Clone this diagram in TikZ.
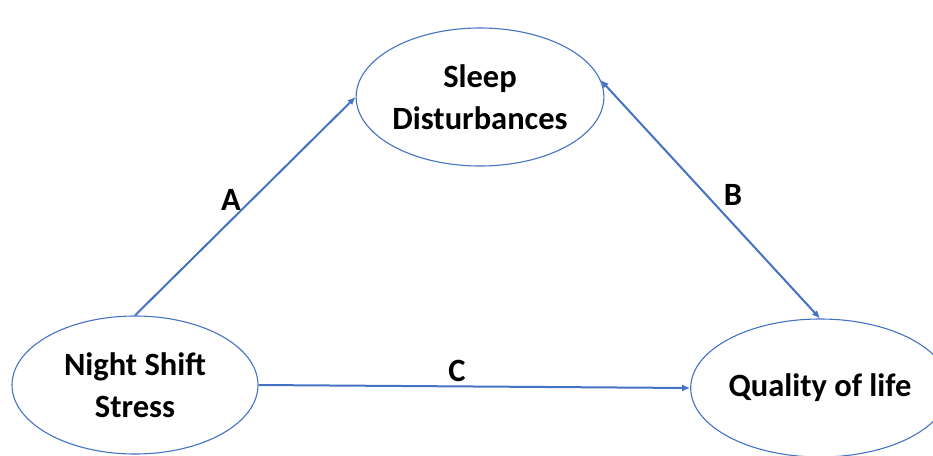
\documentclass[tikz,border=0pt]{standalone}
\usepackage{fontspec}
\setmainfont{Carlito}
\usepackage{xcolor}
\usetikzlibrary{arrows.meta,positioning,shapes.geometric}
\definecolor{linkblue}{RGB}{68,114,196}

\begin{document}
\begin{tikzpicture}[
    x=1pt, y=-1pt,
    factor/.style={ellipse, draw=linkblue, line width=1.1pt, minimum width=246pt, minimum height=138pt, inner sep=0pt, align=center, font=\fontsize{32.5}{42}\selectfont\bfseries},
    arrow/.style={-{Latex[length=8pt,width=7pt]}, line width=2pt, draw=linkblue},
    path/.style={font=\fontsize{32.5}{34}\selectfont\bfseries, inner sep=1pt}
]
\useasboundingbox (0,0) rectangle (933,455);
\node[factor] (sleep) at (480,97) {Sleep\\Disturbances};
\node[factor] (night) at (135,385) {Night Shift\\Stress};
\node[factor] (qol) at (820,388) {Quality of life};

\draw[arrow] (night.north) -- node[path, pos=0.53, left=9pt] (lblA) {A} (sleep.west);
\draw[arrow, {Latex[length=8pt,width=7pt]}-{Latex[length=8pt,width=7pt]}] (sleep.8) -- node[path, pos=0.48, right=16pt] (lblB) {B} (qol.north);
\draw[arrow] (night.east) -- node[path, pos=0.46, above=3pt] (lblC) {C} (qol.west);
\end{tikzpicture}
\end{document}
